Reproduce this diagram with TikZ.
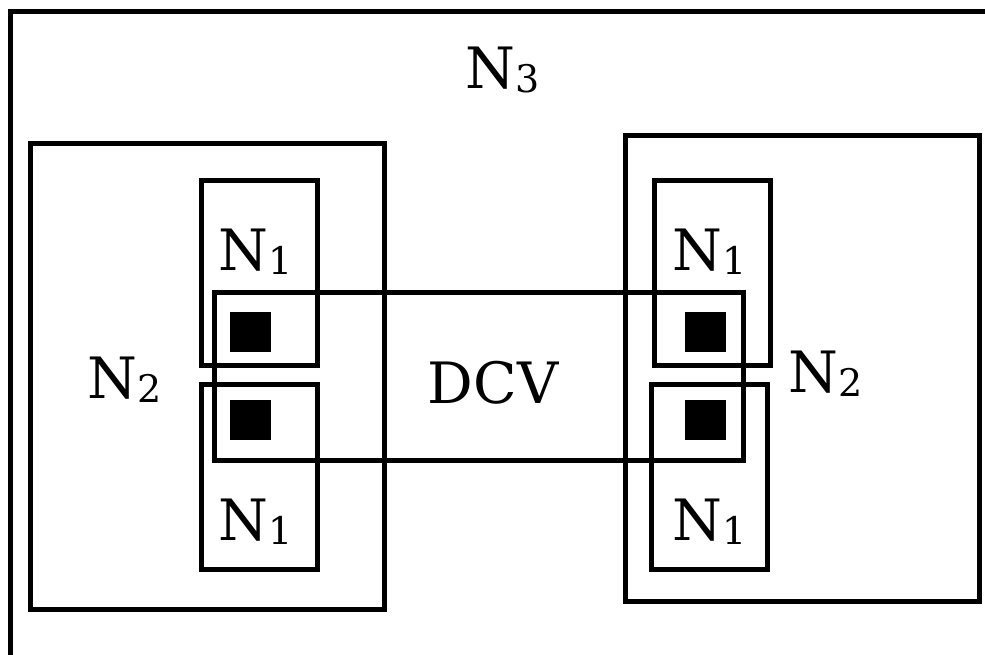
\documentclass[tikz,border=0pt]{standalone}
\usepackage{fontspec}
\usepackage{tikz}
\usetikzlibrary{positioning}
\newfontfamily\lblfont{DejaVu Serif}

\newcommand{\nsub}[1]{N\raisebox{-4pt}{\fontsize{38}{38}\selectfont #1}}

\begin{document}
\begin{tikzpicture}[
    x=1pt, y=-1pt,
    frame/.style={draw, line width=5pt, inner sep=0pt},
    nbox/.style={frame, minimum width=116pt, minimum height=185pt},
    gbox/.style={frame, minimum width=354pt, minimum height=466pt},
    sqr/.style={fill=black, inner sep=0pt, minimum width=41pt, minimum height=40pt},
    lbl/.style={anchor=base, inner sep=0pt, font=\fontsize{57}{57}\selectfont\lblfont}
]
    \useasboundingbox (0,0) rectangle (985,654);
    \clip (0,0) rectangle (985,654);

    % outer region, cut off at the right and bottom
    \coordinate (top) at (10,11);
    \coordinate (far) at (1010,690);
    \draw[line width=5pt] (top) rectangle (far);
    \node[lbl] (n3) at (503,88) {\nsub{3}};

    % the two N2 regions
    \node[gbox] (leftn2) at (207,376) {};
    \node[gbox] (rightn2) at (802,368) {};
    \node[lbl] (leftn2lbl) at (125,398) {\nsub{2}};
    \node[lbl] (rightn2lbl) at (826,392) {\nsub{2}};

    % N1 boxes
    \node[nbox] (leftup) at (259,272.5) {};
    \node[nbox] (leftdown) at (259,476.5) {};
    \node[nbox] (rightup) at (712,272.5) {};
    \node[nbox] (rightdown) at (709.5,476.5) {};
    \node[lbl] at (256,270) {\nsub{1}};
    \node[lbl] at (256,540) {\nsub{1}};
    \node[lbl] at (710,270) {\nsub{1}};
    \node[lbl] at (710,540) {\nsub{1}};

    % the DCV box across both sides
    \node[frame, minimum width=529pt, minimum height=168pt] (dcv) at (478.5,376) {};
    \node[lbl] (dcvlbl) at (493,403) {DCV};

    % vertices
    \node[sqr] (la) at (250.5,332) {};
    \node[sqr] (lb) at (250.5,420) {};
    \node[sqr] (ra) at (705.5,332) {};
    \node[sqr] (rb) at (705.5,420) {};
\end{tikzpicture}
\end{document}
